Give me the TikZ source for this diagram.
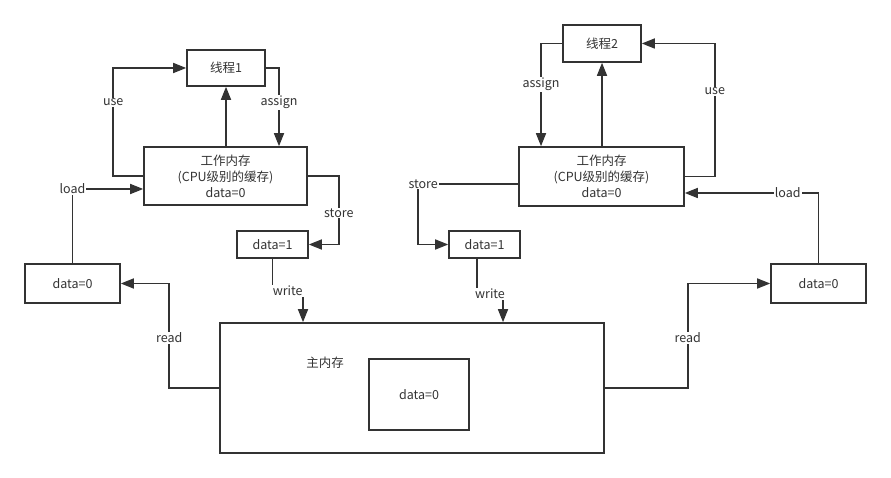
\documentclass[tikz,border=0pt]{standalone}
\usepackage{fontspec}
\setmainfont{Noto Sans CJK SC}
\usetikzlibrary{arrows.meta,positioning}
\definecolor{ink}{HTML}{333333}

\begin{document}
\begin{tikzpicture}[
  x=1pt, y=-1pt,
  font=\fontsize{12.5}{16}\selectfont, text=ink,
  box/.style={rectangle, draw=ink, line width=1.6pt, text centered, align=center, inner sep=1pt},
  arrow/.style={-{Triangle[length=13pt,width=10pt]}, draw=ink, line width=1.6pt},
  line/.style={draw=ink, line width=1.6pt},
  lbl/.style={fill=white, inner sep=1pt, text=ink}
]
  \useasboundingbox (0,0) rectangle (891,478);

  % thread 1 side
  \node[box, minimum width=78pt, minimum height=36pt] (thread1) at (226,68) {线程1};
  \node[box, minimum width=163pt, minimum height=58pt] (work1) at (225.5,176) {工作内存\\(CPU级别的缓存)\\data=0};
  \node[box, minimum width=71pt, minimum height=27pt] (store1) at (272.5,244.5) {data=1};
  \node[box, minimum width=95pt, minimum height=39pt] (read1) at (72.5,283.5) {data=0};

  % thread 2 side
  \node[box, minimum width=78pt, minimum height=37pt] (thread2) at (602,43.5) {线程2};
  \node[box, minimum width=165pt, minimum height=59pt] (work2) at (601.5,176.5) {工作内存\\(CPU级别的缓存)\\data=0};
  \node[box, minimum width=71pt, minimum height=27pt] (store2) at (484.5,244.5) {data=1};
  \node[box, minimum width=95pt, minimum height=39pt] (read2) at (818.5,283.5) {data=0};

  % main memory
  \node[box, minimum width=384pt, minimum height=130pt] (main) at (412,388) {};
  \node (mainlbl) at (325,363) {主内存};
  \node[box, minimum width=100pt, minimum height=71pt] (mainval) at (419,394.5) {data=0};

  % left connectors
  \draw[arrow] (thread1.south |- work1.north) -- (thread1.south);
  \draw[arrow] (work1.west) -- ++(-30,0) |- node[lbl, pos=0.34] {use} (thread1.west);
  \draw[arrow] (thread1.east) -| node[lbl, pos=0.72] {assign} ([xshift=53.5pt]work1.north);
  \draw[arrow] (work1.east) -- ++(31,0) |- node[lbl, pos=0.27] {store} (store1.east);
  \draw[arrow] (read1.north) |- node[lbl, pos=0.5] {load} ([yshift=-13pt]work1.west);
  \draw[arrow] (main.west) -- ++(-50,0) |- node[lbl, pos=0.24] {read} (read1.east);
  \draw[arrow] (store1.south) -- ++(0,32) -| node[lbl, pos=0.25] {write} ([xshift=-109pt]main.north);

  % right connectors
  \draw[arrow] (thread2.south |- work2.north) -- (thread2.south);
  \draw[arrow] (thread2.west) -| node[lbl, pos=0.7] {assign} ([xshift=-60.5pt]work2.north);
  \draw[arrow] (work2.east) -- ++(30,0) |- node[lbl, pos=0.32] {use} (thread2.east);
  \draw[arrow] ([yshift=-7.5pt]work2.west) -- node[lbl, pos=0.95] {store} ++(-100,0) |- (store2.west);
  \draw[arrow] (read2.north) |- node[lbl, pos=0.615] {load} ([yshift=-16.5pt]work2.east);
  \draw[arrow] (main.east) -- ++(83,0) |- node[lbl, pos=0.24] {read} (read2.west);
  \draw[arrow] ([xshift=-7.5pt]store2.south) -- ++(0,35) -| node[lbl, pos=0.25] {write} ([xshift=91pt]main.north);
\end{tikzpicture}
\end{document}
